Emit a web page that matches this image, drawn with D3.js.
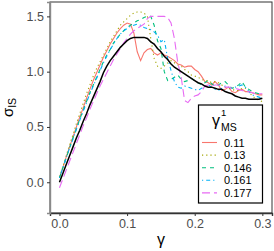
<!DOCTYPE html>
<html><head><meta charset="utf-8">
<script src="https://cdn.jsdelivr.net/npm/d3@7/dist/d3.min.js"></script>
<style>body{margin:0;background:#fff}svg{display:block}text{font-family:"Liberation Sans",Arial,sans-serif}</style>
</head><body>
<svg id="c" width="274" height="251"></svg>
<script>
const gamma = d3.range(0, 61).map(i => +(i * 0.005).toFixed(3));
const seriesNames = ["0.11", "0.13", "0.146", "0.161", "0.177"];
const s011 = [0.04,0.13,0.23,0.32,0.41,0.50,0.59,0.67,0.76,0.84,0.92,0.99,1.06,1.13,1.19,1.25,1.30,1.35,1.39,1.42,1.44,1.43,1.35,1.18,1.10,1.17,1.20,1.21,1.17,1.15,1.17,1.15,1.14,1.12,1.10,1.07,1.06,1.04,1.05,1.05,1.02,1.00,0.96,0.91,0.90,0.88,0.91,0.88,0.83,0.84,0.86,0.82,0.81,0.83,0.84,0.82,0.82,0.81,0.80,0.79,0.79];
const s013 = [0.05,0.14,0.24,0.34,0.43,0.53,0.62,0.71,0.80,0.88,0.96,1.03,1.09,1.15,1.21,1.27,1.32,1.37,1.42,1.45,1.48,1.51,1.53,1.54,1.54,1.53,1.50,1.30,1.12,1.05,1.03,1.05,1.08,1.10,1.08,1.06,1.05,1.02,1.00,0.97,0.96,0.95,0.93,0.92,0.92,0.90,0.91,0.90,0.88,0.86,0.85,0.84,0.83,0.83,0.85,0.85,0.82,0.78,0.76,0.74,0.73];
const s0146 = [0.04,0.13,0.22,0.31,0.40,0.48,0.57,0.65,0.73,0.81,0.88,0.95,1.02,1.09,1.15,1.20,1.26,1.30,1.34,1.37,1.40,1.42,1.44,1.46,1.47,1.49,1.50,1.50,1.42,1.28,1.21,1.00,0.92,0.93,0.95,0.97,0.93,0.91,0.92,0.94,0.92,0.90,0.88,0.90,0.92,0.89,0.87,0.88,0.90,0.91,0.88,0.85,0.86,0.88,0.91,0.86,0.84,0.82,0.81,0.80,0.80];
const s0161 = [0.04,0.13,0.22,0.31,0.39,0.48,0.56,0.64,0.72,0.80,0.87,0.94,1.01,1.08,1.14,1.20,1.25,1.30,1.34,1.37,1.39,1.41,1.42,1.43,1.42,1.40,1.39,1.38,1.36,1.33,1.27,1.29,1.12,1.01,0.91,0.86,0.85,0.87,0.86,0.85,0.84,0.83,0.85,0.86,0.88,0.86,0.84,0.83,0.85,0.87,0.86,0.85,0.86,0.87,0.88,0.86,0.82,0.79,0.78,0.77,0.76];
const s0177 = [-0.05,0.03,0.11,0.19,0.27,0.35,0.43,0.51,0.58,0.66,0.73,0.80,0.87,0.93,0.99,1.05,1.11,1.16,1.21,1.26,1.30,1.34,1.37,1.39,1.41,1.43,1.48,1.50,1.50,1.50,1.50,1.50,1.49,1.44,1.30,1.08,0.95,0.74,0.72,0.76,0.78,0.79,0.82,0.87,0.88,0.87,0.88,0.88,0.87,0.86,0.86,0.85,0.85,0.84,0.83,0.82,0.82,0.81,0.80,0.80,0.80];
const sMean = [0.00,0.08,0.16,0.24,0.32,0.40,0.47,0.55,0.62,0.70,0.77,0.84,0.91,0.99,1.05,1.10,1.14,1.18,1.22,1.25,1.28,1.30,1.31,1.31,1.31,1.31,1.30,1.27,1.25,1.21,1.18,1.14,1.11,1.07,1.04,1.02,1.00,0.98,0.96,0.94,0.92,0.90,0.89,0.87,0.86,0.86,0.85,0.84,0.84,0.82,0.81,0.80,0.78,0.77,0.76,0.76,0.75,0.75,0.75,0.75,0.76];
const xTicks = [0.0, 0.1, 0.2, 0.3];
const yTicks = [0.0, 0.5, 1.0, 1.5];

const colors = ["#F8766D", "#A3A500", "#00BF7D", "#00B0F6", "#E76BF3"];
const dashes = ["none", "1.2,3", "4,4", "1.2,3,4,3", "8,4"];
const values = [s011, s013, s0146, s0161, s0177];

const svg = d3.select("#c");
const L = 50, R = 272, T = 2, B = 213;
const x = d3.scaleLinear().domain([-0.014, 0.3143]).range([L, R]);
const y = d3.scaleLinear().domain([-0.278, 1.630]).range([B, T]);

const line = d3.line().x(d => x(d[0])).y(d => y(d[1]));

const plot = svg.append("g");
values.forEach((v, i) => {
  plot.append("path").datum(gamma.map((g, j) => [g, v[j]]))
    .attr("d", line).attr("fill", "none")
    .attr("stroke", colors[i]).attr("stroke-width", 1.1)
    .attr("stroke-dasharray", dashes[i]);
});
plot.append("path").datum(gamma.map((g, j) => [g, sMean[j]]))
  .attr("d", line).attr("fill", "none").attr("stroke", "#000").attr("stroke-width", 1.5);

// panel border
svg.append("rect").attr("x", L).attr("y", T).attr("width", R - L).attr("height", B - T)
  .attr("fill", "none").attr("stroke", "#333").attr("stroke-width", 1);

// axes
const xAxis = svg.append("g").attr("transform", `translate(0,${B})`)
  .call(d3.axisBottom(x).tickValues(xTicks).tickFormat(d3.format(".1f")).tickSize(3).tickPadding(3));
const yAxis = svg.append("g").attr("transform", `translate(${L},0)`)
  .call(d3.axisLeft(y).tickValues(yTicks).tickFormat(d3.format(".1f")).tickSize(3).tickPadding(3));
[xAxis, yAxis].forEach(a => {
  a.select(".domain").attr("stroke", "#333").attr("stroke-width", 1.4);
  a.selectAll(".tick line").attr("stroke", "#333").attr("stroke-width", 1);
  a.selectAll(".tick text").attr("fill", "#4d4d4d").attr("font-size", 12.5)
    .attr("font-family", "Liberation Sans, Arial, sans-serif");
});
yAxis.select(".domain").attr("stroke", "#8a8a8a");

// axis titles
svg.append("text").attr("x", (L + R) / 2).attr("y", 245).attr("text-anchor", "middle")
  .attr("font-size", 16).attr("fill", "#000").text("γ");
const yl = svg.append("text").attr("transform", `translate(13,${(T + B) / 2}) rotate(-90)`)
  .attr("text-anchor", "middle").attr("fill", "#000");
yl.append("tspan").attr("font-size", 15).text("σ");
yl.append("tspan").attr("font-size", 10.5).attr("dy", 3).text("IS");

// legend
const lg = svg.append("g");
lg.append("rect").attr("x", 198.5).attr("y", 105).attr("width", 64).attr("height", 98)
  .attr("fill", "#fff").attr("stroke", "#000").attr("stroke-width", 1.2);
lg.append("text").attr("x", 212).attr("y", 126).attr("font-size", 16).attr("fill", "#000").text("γ");
lg.append("text").attr("x", 221).attr("y", 116).attr("font-size", 9.5).attr("fill", "#000").text("1");
lg.append("text").attr("x", 221).attr("y", 131).attr("font-size", 10.5).attr("fill", "#000").text("MS");
seriesNames.forEach((n, i) => {
  const yy = 142.5 + i * 12.6;
  lg.append("line").attr("x1", 202).attr("x2", 217).attr("y1", yy).attr("y2", yy)
    .attr("stroke", colors[i]).attr("stroke-width", 1.1).attr("stroke-dasharray", dashes[i]);
  lg.append("text").attr("x", 224).attr("y", yy + 4).attr("font-size", 11).attr("fill", "#000").text(n);
});
</script>
</body></html>
